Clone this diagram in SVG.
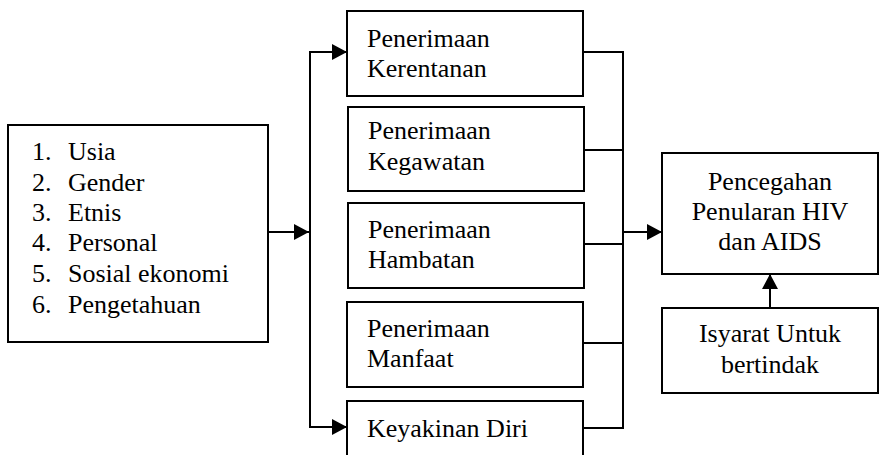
<svg xmlns="http://www.w3.org/2000/svg" width="879" height="455" viewBox="0 0 879 455" font-family="'Liberation Serif', serif" font-size="26">
<style>
.box{fill:#fff;stroke:#000;stroke-width:2}
.ln{fill:none;stroke:#000;stroke-width:2}
text{font-family:'Liberation Serif',serif;font-size:26px;fill:#000}
.c{text-anchor:middle}
</style>
<defs>
<marker id="ah" markerUnits="userSpaceOnUse" markerWidth="16" markerHeight="16" refX="15" refY="8" orient="auto">
<path d="M0,0 L15,8 L0,16 Z" fill="#000"/>
</marker>
</defs>
<g id="factors">
<rect class="box" x="8" y="125" width="260" height="217"/>
<text x="32" y="160">1.</text><text x="68" y="160">Usia</text>
<text x="32" y="191">2.</text><text x="68" y="191">Gender</text>
<text x="32" y="221">3.</text><text x="68" y="221">Etnis</text>
<text x="32" y="251">4.</text><text x="68" y="251">Personal</text>
<text x="32" y="282">5.</text><text x="68" y="282">Sosial ekonomi</text>
<text x="32" y="313">6.</text><text x="68" y="313">Pengetahuan</text>
</g>
<g id="kerentanan">
<rect class="box" x="347" y="11" width="236" height="85"/>
<text x="367" y="47">Penerimaan</text><text x="367" y="77">Kerentanan</text>
</g>
<g id="kegawatan">
<rect class="box" x="348" y="107" width="236" height="84"/>
<text x="368" y="139">Penerimaan</text><text x="368" y="170">Kegawatan</text>
</g>
<g id="hambatan">
<rect class="box" x="348" y="203" width="236" height="85"/>
<text x="368" y="238">Penerimaan</text><text x="368" y="268">Hambatan</text>
</g>
<g id="manfaat">
<rect class="box" x="347" y="302" width="236" height="85"/>
<text x="367" y="337">Penerimaan</text><text x="367" y="367">Manfaat</text>
</g>
<g id="keyakinan">
<rect class="box" x="347" y="401" width="236" height="70"/>
<text x="367" y="437">Keyakinan Diri</text>
</g>
<g id="pencegahan">
<rect class="box" x="662" y="153" width="216" height="121"/>
<text class="c" x="770" y="190">Pencegahan</text>
<text class="c" x="770" y="220">Penularan HIV</text>
<text class="c" x="770" y="250">dan AIDS</text>
</g>
<g id="isyarat">
<rect class="box" x="662" y="308" width="216" height="85"/>
<text class="c" x="770" y="342">Isyarat Untuk</text>
<text class="c" x="770" y="373">bertindak</text>
</g>
<g id="connectors">
<line class="ln" x1="268" y1="232" x2="309" y2="232" marker-end="url(#ah)"/>
<line class="ln" x1="310" y1="51" x2="310" y2="428"/>
<line class="ln" x1="309" y1="52" x2="347" y2="52" marker-end="url(#ah)"/>
<line class="ln" x1="309" y1="427" x2="347" y2="427" marker-end="url(#ah)"/>
<polyline class="ln" points="583,52 623,52 623,428 583,428"/>
<line class="ln" x1="584" y1="150" x2="623" y2="150"/>
<line class="ln" x1="584" y1="244" x2="623" y2="244"/>
<line class="ln" x1="583" y1="343" x2="623" y2="343"/>
<line class="ln" x1="623" y1="232" x2="662" y2="232" marker-end="url(#ah)"/>
<line class="ln" x1="770" y1="308" x2="770" y2="274" marker-end="url(#ah)"/>
</g>
</svg>
